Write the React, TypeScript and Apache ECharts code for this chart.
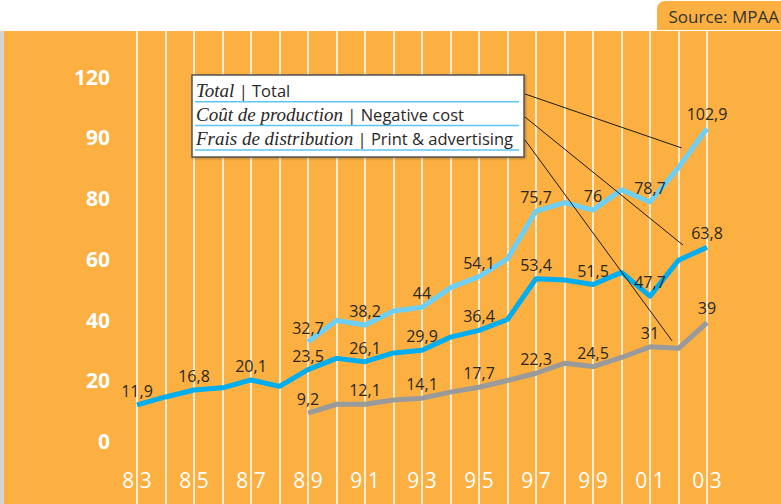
import React, { useEffect, useRef } from "react";
import * as echarts from "echarts";

const years = ["83","84","85","86","87","88","89","90","91","92","93","94","95","96","97","98","99","00","01","02","03"];
const yTickValues = [0, 20, 40, 60, 80, 100, 120];
const yTickLabels = ["0", "20", "40", "60", "80", "90", "120"];
const totalValues = [null, null, null, null, null, null, 32.7, 39.7, 38.2, 42.8, 44, 50.5, 54.1, 60, 75.7, 78.5, 76, 82.7, 78.7, 90, 102.9];
const negativeCost = [11.9, 14.5, 16.8, 17.5, 20.1, 18, 23.5, 27.2, 26.1, 29, 29.9, 34.2, 36.4, 40, 53.4, 53, 51.5, 55.5, 47.7, 59.5, 63.8];
const printAdv = [null, null, null, null, null, null, 9.2, 12.1, 12.1, 13.5, 14.1, 16.1, 17.7, 19.9, 22.3, 25.6, 24.5, 27.5, 31, 30.5, 39];
const legendRows = [
  { fr: "Total", en: "Total" },
  { fr: "Coût de production", en: "Negative cost" },
  { fr: "Frais de distribution", en: "Print & advertising" },
];
// leader line anchors: [category, value, pixel x nudge]
const leaderAnchors: [string, number, number][] = [
  ["02", 96.5, 3],
  ["02", 64.5, 4.5],
  ["02", 33, -6.5],
];

const ORANGE = "#FBB041";
const FONT = "'Open Sans', 'Noto Sans', sans-serif";

export default function App() {
  const ref = useRef<HTMLDivElement>(null);
  useEffect(() => {
    if (!ref.current) return;
    const chart = echarts.init(ref.current, null, { renderer: "svg" });
    const fmt = (v: any) => String(v).replace(".", ",");
    const mkSeries = (name: string, data: any[], color: string) => ({
      name,
      type: "line",
      xAxisIndex: 1,
      yAxisIndex: 1,
      data,
      symbol: "circle",
      symbolSize: 0.1,
      showSymbol: true,
      showAllSymbol: true,
      connectNulls: false,
      itemStyle: { color: "rgba(0,0,0,0)" },
      lineStyle: { color, width: 5, join: "round" },
      label: {
        show: true,
        position: "top",
        distance: 6,
        color: "#2b2727",
        fontSize: 16,
        fontFamily: FONT,
        formatter: (p: any) => (p.dataIndex % 2 === 0 && p.value != null ? fmt(p.value) : ""),
      },
      z: 3,
    });
    const base: any = {
      animation: false,
      backgroundColor: ORANGE,
      grid: [
        { left: 137, right: 74, top: 31, bottom: 0 },
        { left: 137, right: 74, top: 76.5, bottom: 63 },
      ],
      xAxis: [
        {
          type: "category", gridIndex: 0, data: years, boundaryGap: false,
          axisLine: { show: false }, axisTick: { show: false }, axisLabel: { show: false },
          splitLine: { show: true, interval: 0, lineStyle: { color: "#ffffff", width: 1.5 } },
        },
        {
          type: "category", gridIndex: 1, data: years, boundaryGap: false,
          axisLine: { show: false }, axisTick: { show: false }, splitLine: { show: false },
          axisLabel: {
            interval: 1, margin: 28, color: "#ffffff", fontSize: 21, fontWeight: 500, fontFamily: FONT,
            formatter: (v: string) => v.split("").join(" "),
          },
        },
      ],
      yAxis: [
        { type: "value", gridIndex: 0, show: false, min: 0, max: 1, splitLine: { show: false } },
        {
          type: "value", gridIndex: 1, min: 0, max: 120, interval: 20,
          axisLine: { show: false }, axisTick: { show: false }, splitLine: { show: false },
          axisLabel: {
            margin: 27, color: "#ffffff", fontSize: 21, fontWeight: "bold", fontFamily: FONT,
            formatter: (v: number) => {
              const i = yTickValues.indexOf(v);
              return i >= 0 ? yTickLabels[i] : String(v);
            },
          },
        },
      ],
      series: [
        mkSeries("Total", totalValues, "#6DCFF6"),
        mkSeries("Negative cost", negativeCost, "#00AEEF"),
        mkSeries("Print & advertising", printAdv, "#999A9C"),
      ],
    };
    chart.setOption(base);

    const graphics: any[] = [
      { type: "rect", z: 50, shape: { x: 0, y: 0, width: 781, height: 31 }, style: { fill: "#ffffff" } },
      { type: "rect", z: 50, shape: { x: 0, y: 31, width: 4, height: 473 }, style: { fill: "#D4D4D4" } },
      { type: "rect", z: 51, shape: { x: 657, y: 1, width: 130, height: 29, r: [8, 0, 0, 0] }, style: { fill: ORANGE } },
      { type: "text", z: 52, x: 779, y: 16, style: { text: "Source: MPAA", fill: "#333333", fontSize: 17, fontFamily: FONT, verticalAlign: "middle", align: "right" } },
      {
        type: "rect", z: 60, shape: { x: 192, y: 75, width: 332, height: 82 },
        style: { fill: "#ffffff", stroke: "#555555", lineWidth: 1.5, shadowBlur: 2, shadowColor: "rgba(0,0,0,0.3)", shadowOffsetX: 1, shadowOffsetY: 1 },
      },
    ];
    const rowY = [90, 114, 138.5];
    const lineY = [101.7, 125.6, 150];
    legendRows.forEach((r, i) => {
      graphics.push({
        type: "text", z: 61, x: 196, y: rowY[i],
        style: {
          text: `{i|${r.fr}}{s| | ${r.en}}`,
          verticalAlign: "middle",
          rich: {
            i: { fontFamily: "'Liberation Serif', 'DejaVu Serif', serif", fontStyle: "italic", fontSize: 19, fill: "#2b2727" },
            s: { fontFamily: FONT, fontSize: 16.5, fill: "#2b2727" },
          },
        },
      });
      graphics.push({
        type: "line", z: 61, shape: { x1: 195, y1: lineY[i], x2: 519, y2: lineY[i] },
        style: { stroke: "#5CC6F2", lineWidth: 1.5 },
      });
    });
    const startY = [94, 117, 140];
    leaderAnchors.forEach((a, i) => {
      const p = chart.convertToPixel({ xAxisIndex: 1, yAxisIndex: 1 } as any, [a[0], a[1]]) as number[];
      graphics.push({
        type: "line", z: 62, shape: { x1: 525, y1: startY[i], x2: p[0] + a[2], y2: p[1] },
        style: { stroke: "#1a1a1a", lineWidth: 1 },
      });
    });
    chart.setOption({ graphic: graphics });
    return () => chart.dispose();
  }, []);
  return <div ref={ref} style={{ position: "fixed", left: 0, top: 0, width: 781, height: 504 }} />;
}
